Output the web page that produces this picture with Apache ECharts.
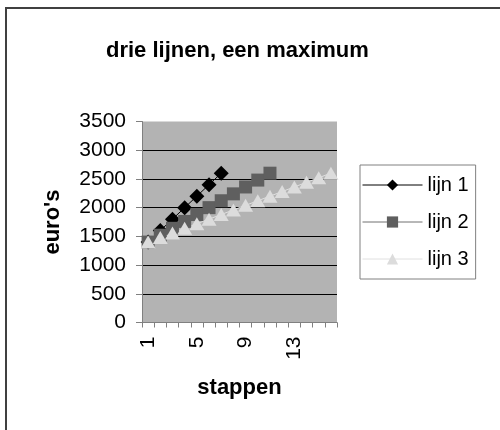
<!DOCTYPE html>
<html>
<head>
<meta charset="utf-8">
<script src="https://cdn.jsdelivr.net/npm/echarts@6/dist/echarts.min.js"></script>
<style>
html,body{margin:0;padding:0;background:#fff;}
#c{width:500px;height:430px;}
</style>
</head>
<body>
<div id="c"></div>
<script>
var categories = ['1','2','3','4','5','6','7','8','9','10','11','12','13','14','15','16'];
var lijn1 = [1400,1600,1800,2000,2200,2400,2600];
var lijn2 = [1400,1520,1640,1760,1880,2000,2120,2240,2360,2480,2600];
var lijn3 = [1400,1480,1560,1640,1720,1800,1880,1960,2040,2120,2200,2280,2360,2440,2520,2600];
var yTicks = [0,500,1000,1500,2000,2500,3000,3500];

var FONT = '"Liberation Sans", Arial, sans-serif';
var chart = echarts.init(document.getElementById('c'));
var splitColors = yTicks.map(function(v, i){ return (i === 0 || i === yTicks.length - 1) ? 'rgba(0,0,0,0)' : '#000'; });

chart.setOption({
  backgroundColor: '#fff',
  animation: false,
  textStyle: {fontFamily: FONT},
  graphic: [{
    type: 'rect', shape: {x: 6, y: 8, width: 600, height: 600},
    style: {fill: 'none', stroke: '#404040', lineWidth: 2}, silent: true, z: -1
  }],
  title: {
    text: 'drie lijnen, een maximum',
    left: 106, top: 40, padding: 0,
    textStyle: {fontFamily: FONT, fontSize: 22, fontWeight: 'bold', color: '#000'}
  },
  legend: {
    orient: 'vertical', left: 360, top: 165,
    padding: [10, 7, 10, 2], itemWidth: 60, itemHeight: 14, itemGap: 17,
    borderColor: '#808080', borderWidth: 1,
    lineStyle: {width: 1},
    textStyle: {fontFamily: FONT, fontSize: 20, color: '#000', lineHeight: 20},
    data: ['lijn 1', 'lijn 2', 'lijn 3']
  },
  grid: {
    left: 142, top: 121.5, right: 163, bottom: 107.5,
    show: true, backgroundColor: '#b3b3b3', borderWidth: 0
  },
  xAxis: {
    type: 'category', data: categories, boundaryGap: true,
    name: 'stappen', nameLocation: 'middle', nameGap: 54,
    nameTextStyle: {fontFamily: FONT, fontSize: 22, fontWeight: 'bold', color: '#000'},
    axisLine: {lineStyle: {color: '#808080', width: 1}},
    axisTick: {show: true, interval: 0, length: 5, lineStyle: {color: '#808080'}},
    axisLabel: {interval: 3, rotate: 90, margin: 14, fontFamily: FONT, fontSize: 21, color: '#000'},
    splitLine: {show: false}
  },
  yAxis: {
    type: 'value', min: 0, max: 3500, interval: 500,
    name: "euro's", nameLocation: 'middle', nameGap: 78,
    nameTextStyle: {fontFamily: FONT, fontSize: 22, fontWeight: 'bold', color: '#000'},
    axisLine: {show: true, lineStyle: {color: '#808080', width: 1}},
    axisTick: {show: true, length: 6, lineStyle: {color: '#808080'}},
    axisLabel: {margin: 16, fontFamily: FONT, fontSize: 21, color: '#000',
      formatter: function(v){ return String(v); }},
    splitLine: {show: true, lineStyle: {color: splitColors, width: 1}}
  },
  series: [
    {name: 'lijn 1', type: 'line', data: lijn1, symbol: 'diamond', symbolSize: 15, showAllSymbol: true,
      itemStyle: {color: '#000'}, lineStyle: {color: '#000', width: 1}},
    {name: 'lijn 2', type: 'line', data: lijn2, symbol: 'rect', symbolSize: 13, showAllSymbol: true,
      itemStyle: {color: '#5f5f5f'}, lineStyle: {color: '#707070', width: 1}},
    {name: 'lijn 3', type: 'line', data: lijn3, symbol: 'triangle', symbolSize: [15, 13], showAllSymbol: true,
      itemStyle: {color: '#dcdcdc'}, lineStyle: {color: '#e0e0e0', width: 1}}
  ]
});
</script>
</body>
</html>
